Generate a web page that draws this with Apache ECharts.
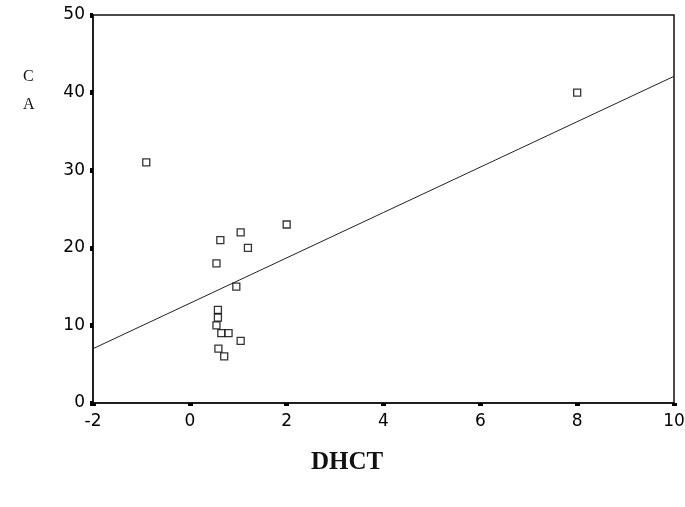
<!DOCTYPE html>
<html>
<head>
<meta charset="utf-8">
<script src="https://cdn.jsdelivr.net/npm/echarts@6/dist/echarts.min.js"></script>
<style>
    html, body { margin: 0; padding: 0; background: #fff; }
    #chart { width: 685px; height: 507px; }
</style>
</head>
<body>
<div id="chart"></div>
<script>
// scatter points (DHCT, CA)
var dhct = [-0.9, 8, 2, 1.05, 0.63, 1.2, 0.55, 0.96, 0.58, 0.58, 0.55, 0.65, 0.8, 1.05, 0.59, 0.71];
var ca   = [31,   40, 23, 22,  21,   20,  18,   15,   12,   11,   10,   9,    9,   8,    7,    6];

// fitted line endpoints
var lineX = [-2, 10];
var lineY = [7.0, 42.1];

var xTicks = [-2, 0, 2, 4, 6, 8, 10];
var yTicks = [0, 10, 20, 30, 40, 50];

var chart = echarts.init(document.getElementById('chart'));

function pairs(xs, ys) {
    var out = [];
    for (var i = 0; i < xs.length; i++) {
        out.push([xs[i], ys[i]]);
    }
    return out;
}

var tickFont = {
    color: '#000',
    fontFamily: 'DejaVu Sans',
    fontSize: 17
};

chart.setOption({
    backgroundColor: '#fff',
    animation: false,
    grid: {
        left: 93,
        right: 11,
        top: 15,
        bottom: 104,
        outerBoundsMode: 'none',
        show: true,
        borderColor: '#111',
        borderWidth: 1.5
    },
    xAxis: {
        type: 'value',
        min: xTicks[0],
        max: xTicks[xTicks.length - 1],
        interval: 2,
        axisLine: { show: true, onZero: false, lineStyle: { color: '#111', width: 1.5 } },
        axisTick: { show: true, inside: false, length: 3, lineStyle: { color: '#000', width: 5 } },
        axisLabel: Object.assign({ margin: 10 }, tickFont),
        splitLine: { show: false }
    },
    yAxis: {
        type: 'value',
        min: yTicks[0],
        max: yTicks[yTicks.length - 1],
        interval: 10,
        axisLine: { show: true, onZero: false, lineStyle: { color: '#111', width: 1.5 } },
        axisTick: { show: true, inside: false, length: 3, lineStyle: { color: '#000', width: 5 } },
        axisLabel: Object.assign({ margin: 8 }, tickFont),
        splitLine: { show: false }
    },
    graphic: [
        {
            type: 'text',
            left: 23,
            top: 69,
            style: {
                text: 'C\n\nA',
                fill: '#111',
                font: '16px "Liberation Serif"',
                lineHeight: 14
            }
        },
        {
            type: 'text',
            left: 311,
            top: 450,
            style: {
                text: 'DHCT',
                fill: '#111',
                font: 'bold 25px "Liberation Serif"'
            }
        }
    ],
    series: [
        {
            type: 'line',
            data: pairs(lineX, lineY),
            symbol: 'none',
            lineStyle: { color: '#222', width: 1 },
            z: 2
        },
        {
            type: 'scatter',
            data: pairs(dhct, ca),
            symbol: 'rect',
            symbolSize: 7,
            itemStyle: { color: '#fff', borderColor: '#000', borderWidth: 1.3 },
            z: 3
        }
    ]
});
</script>
</body>
</html>
